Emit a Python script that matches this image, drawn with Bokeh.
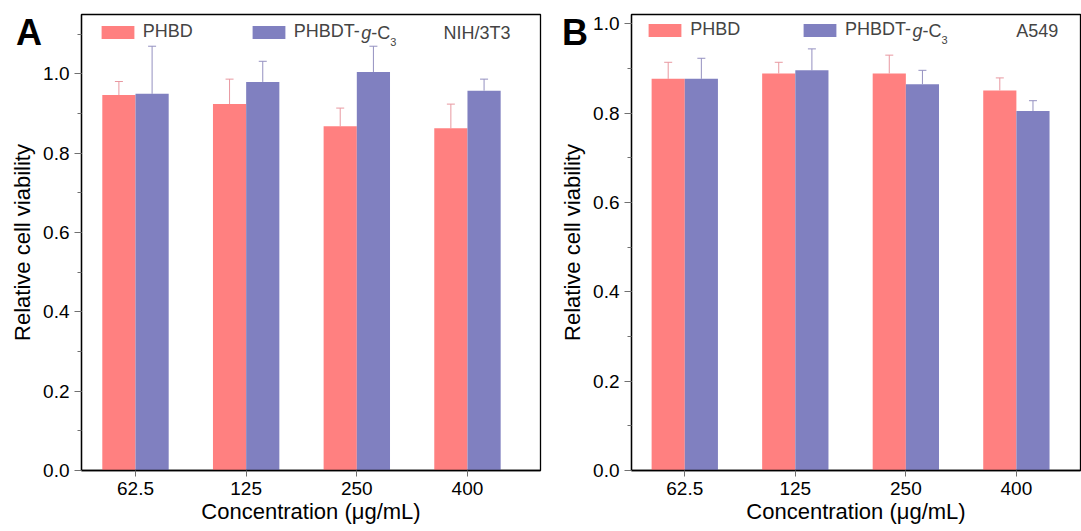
from bokeh.plotting import figure
from bokeh.models import (ColumnDataSource, Whisker, TeeHead, Legend, LegendItem, Label,
                          SingleIntervalTicker, FixedTicker, PrintfTickFormatter, Range1d,
                          GridBox, Div)
from bokeh.transform import dodge
from bokeh.embed import file_html
from bokeh.resources import INLINE

# ---------------- data ----------------
concentrations = ["62.5", "125", "250", "400"]
positions = [1, 2, 3, 4]

phbd_a = [0.947, 0.924, 0.868, 0.863]
phbd_a_err = [0.034, 0.063, 0.046, 0.061]
phbdt_a = [0.950, 0.980, 1.005, 0.958]
phbdt_a_err = [0.120, 0.052, 0.065, 0.029]

phbd_b = [0.877, 0.889, 0.889, 0.851]
phbd_b_err = [0.037, 0.025, 0.041, 0.028]
phbdt_b = [0.877, 0.896, 0.865, 0.805]
phbdt_b_err = [0.046, 0.048, 0.031, 0.023]

PINK = "#FF8080"
PURPLE = "#8080C0"
PINK_ERR = "#E898A0"
PURPLE_ERR = "#9490C0"
FONT = "Liberation Sans"


def make_panel(cell_line, v1, e1, v2, e2, ymax, xr, width, bl, br, bb, leg1_x, leg2_x, cell_right):
    src = ColumnDataSource(dict(
        x=positions,
        v1=v1, u1=[a + b for a, b in zip(v1, e1)],
        v2=v2, u2=[a + b for a, b in zip(v2, e2)],
    ))
    p = figure(width=width, height=531, x_range=Range1d(*xr), y_range=Range1d(0, ymax),
               output_backend="svg", toolbar_location=None,
               min_border_left=bl, min_border_right=br, min_border_top=14, min_border_bottom=bb)
    p.xgrid.visible = False
    p.ygrid.visible = False
    p.outline_line_color = "black"
    p.outline_line_alpha = 1
    p.outline_line_width = 1.3
    p.background_fill_color = "white"
    p.border_fill_color = "white"

    r1 = p.vbar(x=dodge("x", -0.15), top="v1", width=0.3, source=src,
                fill_color=PINK, line_color=None)
    r2 = p.vbar(x=dodge("x", 0.15), top="v2", width=0.3, source=src,
                fill_color=PURPLE, line_color=None)

    w1 = Whisker(source=src, base=dodge("x", -0.15), lower="v1", upper="u1", dimension="height",
                 line_color=PINK_ERR, line_width=1,
                 upper_head=TeeHead(size=8, line_color=PINK_ERR, line_width=1), lower_head=None)
    w2 = Whisker(source=src, base=dodge("x", 0.15), lower="v2", upper="u2", dimension="height",
                 line_color=PURPLE_ERR, line_width=1,
                 upper_head=TeeHead(size=8, line_color=PURPLE_ERR, line_width=1), lower_head=None)
    p.add_layout(w1)
    p.add_layout(w2)

    # axes
    ya = p.yaxis[0]
    ya.ticker = SingleIntervalTicker(interval=0.2, num_minor_ticks=2)
    ya.formatter = PrintfTickFormatter(format="%.1f")
    ya.axis_label = "Relative cell viability"
    xa = p.xaxis[0]
    xa.ticker = FixedTicker(ticks=positions, minor_ticks=[])
    xa.major_label_overrides = {k: v for k, v in zip(positions, concentrations)}
    xa.axis_label = "Concentration (\u03bcg/mL)"
    for ax in (xa, ya):
        ax.axis_line_color = "black"
        ax.axis_line_width = 1.3
        ax.major_tick_line_color = "#707070"
        ax.minor_tick_line_color = "#707070"
        ax.major_tick_in = 0
        ax.minor_tick_in = 0
        ax.major_label_text_font = FONT
        ax.major_label_text_font_size = "19px"
        ax.major_label_text_color = "black"
        ax.axis_label_text_font = FONT
        ax.axis_label_text_font_size = "22px"
        ax.axis_label_text_font_style = "normal"
        ax.axis_label_text_color = "black"
    ya.major_tick_out = 7
    ya.minor_tick_out = 4
    ya.axis_label_standoff = 5
    xa.major_tick_out = 6
    xa.axis_label_standoff = 1

    # legends
    fh = 531 - 14 - bb
    for rr, lab, lx in ((r1, "PHBD", leg1_x), (r2, "PHBDT-", leg2_x)):
        leg = Legend(items=[LegendItem(label=lab, renderers=[rr])], location=(lx, fh - 8 - 20),
                     orientation="horizontal", glyph_width=41, glyph_height=16, label_standoff=5,
                     padding=0, margin=0, border_line_color=None, background_fill_alpha=0,
                     label_text_font=FONT, label_text_font_size="18px", label_height=20)
        p.add_layout(leg)

    cy = fh - 8 - 10
    gx = leg2_x + 41 + 5 + 67
    p.add_layout(Label(x=gx, y=cy, x_units="screen", y_units="screen", text="g",
                       text_font=FONT, text_font_size="18px", text_font_style="italic",
                       text_baseline="middle"))
    p.add_layout(Label(x=gx + 10, y=cy, x_units="screen", y_units="screen", text="-C",
                       text_font=FONT, text_font_size="18px", text_baseline="middle"))
    p.add_layout(Label(x=gx + 29, y=cy - 9, x_units="screen", y_units="screen", text="3",
                       text_font=FONT, text_font_size="11px", text_baseline="middle"))
    p.add_layout(Label(x=cell_right, y=cy, x_units="screen", y_units="screen", text=cell_line,
                       text_font=FONT, text_font_size="18px", text_baseline="middle",
                       text_align="right"))
    return p


def panel_letter(letter, left):
    return Div(text=letter, width=40, height=40, margin=(15, 0, 0, left),
               styles={"font-family": FONT, "font-size": "36px", "font-weight": "bold",
                       "line-height": "36px", "color": "black", "background": "transparent"})


pa = make_panel("NIH/3T3", phbd_a, phbd_a_err, phbdt_a, phbdt_a_err, 1.15, (0.512, 4.66),
                545, 81, 5, 61, 15.7, 166.7, 429)
pb = make_panel("A549", phbd_b, phbd_b_err, phbdt_b, phbdt_b_err, 1.021, (0.518, 4.58),
                536, 86, 1, 59, 13.3, 168, 426.7)

layout = GridBox(children=[(pa, 0, 0), (pb, 0, 1),
                           (panel_letter("A", 16), 0, 0), (panel_letter("B", 17), 0, 1)],
                 spacing=0)
open("out.html", "w").write(file_html(layout, INLINE))
